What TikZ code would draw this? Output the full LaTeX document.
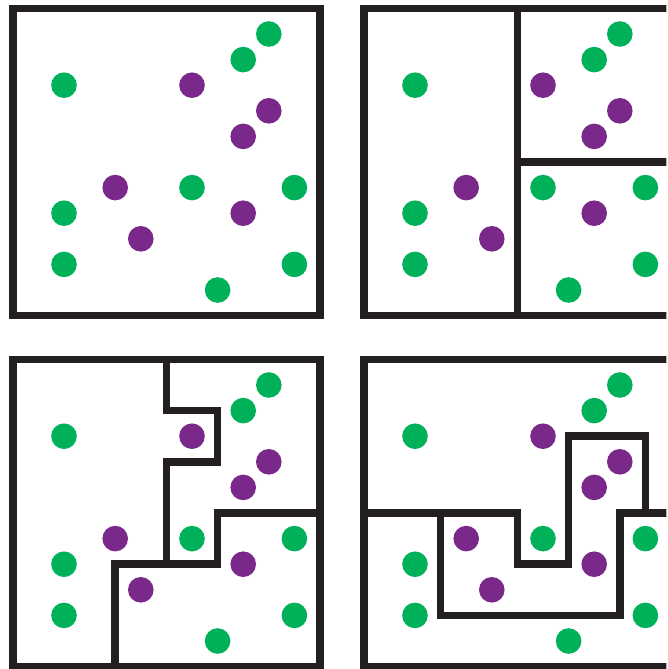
\documentclass[tikz,border=0pt]{standalone}
\definecolor{dotgreen}{RGB}{0,177,89}
\definecolor{dotpurple}{RGB}{122,40,138}
\definecolor{linek}{RGB}{35,31,32}
\begin{document}
\begin{tikzpicture}[x=1pt,y=-1pt,
  frame/.style={draw=linek,line width=7.5pt,line join=miter},
  wall/.style={draw=linek,line width=7.5pt,line join=miter,line cap=butt},
  gdot/.style={circle,fill=dotgreen,inner sep=0pt,minimum size=25.6pt},
  pdot/.style={circle,fill=dotpurple,inner sep=0pt,minimum size=25.6pt}]
\useasboundingbox (0,0) rectangle (667,669);
\clip (0,0) rectangle (666.3,669);
\foreach \ox/\oy/\p in {64/-34/a,415/-34/b,64/-385/c,415/-385/d}{
  \begin{scope}[shift={(\ox pt,\oy pt)},x=25.6pt,y=-25.6pt]
    \draw[frame] (-2,-1) rectangle (10,11);
    \foreach \gx/\gy [count=\i] in {8/0,7/1,0/2,5/6,9/6,0/7,0/9,9/9,6/10}
      \node[gdot] (g\p\i) at (\gx,\gy) {};
    \foreach \gx/\gy [count=\i] in {5/2,8/3,7/4,2/6,7/7,3/8}
      \node[pdot] (v\p\i) at (\gx,\gy) {};
  \end{scope}
}
% panel 2
\begin{scope}[shift={(415pt,-34pt)},x=25.6pt,y=-25.6pt]
  \draw[wall] (4,-1) -- (4,11);
  \draw[wall] (4,5) -- (10,5);
\end{scope}
% panel 3
\begin{scope}[shift={(64pt,-385pt)},x=25.6pt,y=-25.6pt]
  \draw[wall] (4,-1) -- (4,1) -- (6,1) -- (6,3) -- (4,3) -- (4,7);
  \draw[wall] (10,5) -- (6,5) -- (6,7) -- (2,7) -- (2,11);
\end{scope}
% panel 4
\begin{scope}[shift={(415pt,-385pt)},x=25.6pt,y=-25.6pt]
  \draw[wall] (-2,5) -- (1,5) -- (1,9) -- (8,9) -- (8,5) -- (10,5);
  \draw[wall] (1,5) -- (4,5) -- (4,7) -- (6,7) -- (6,2) -- (9,2) -- (9,5);
\end{scope}
\end{tikzpicture}
\end{document}
